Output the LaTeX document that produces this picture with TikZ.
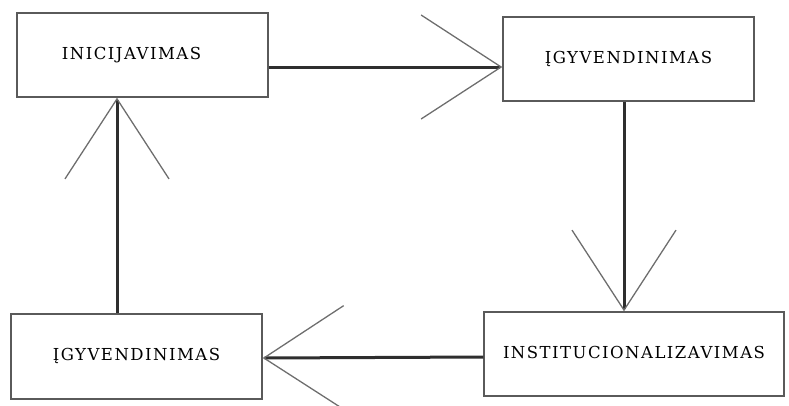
\documentclass[tikz,border=0pt]{standalone}
\usepackage{fontspec}
\setmainfont{DejaVu Serif}[LetterSpace=9]
\usetikzlibrary{arrows.meta}
\definecolor{boxline}{HTML}{5A5A5A}
\definecolor{shaft}{HTML}{2E2E2E}
\definecolor{barb}{HTML}{6E6E6E}
\begin{document}
\begin{tikzpicture}[x=1pt,y=-1pt,
  stage/.style={draw=boxline, line width=1.4pt, fill=white, rectangle,
    inner sep=0pt, font=\fontsize{16.5}{19}\selectfont},
  flow/.style={draw=shaft, line width=3pt,
    -{Straight Barb[length=80pt, width=104pt, line width=1.3pt, color=barb]}}]
\useasboundingbox (0,0) rectangle (789,405);
% the four stages of the cycle
\node[stage, minimum width=251pt, minimum height=84pt] (init) at (142.5,55)
  {\raisebox{1pt}{\hspace*{-22pt}INICIJAVIMAS}};
\node[stage, minimum width=251pt, minimum height=84pt] (impA) at (628.5,59)
  {\raisebox{4pt}{ĮGYVENDINIMAS}};
\node[stage, minimum width=300pt, minimum height=84pt] (inst) at (634,354)
  {\raisebox{4pt}{INSTITUCIONALIZAVIMAS}};
\node[stage, minimum width=251pt, minimum height=85pt] (impB) at (136.5,356.5)
  {\raisebox{4pt}{ĮGYVENDINIMAS}};
% connectors between the stages
\draw[flow] ([yshift=-12pt]init.east) -- ([yshift=-8pt]impA.west);
\draw[flow] ([xshift=-4.5pt]impA.south) -- ([xshift=-10pt]inst.north);
\draw[flow] ([yshift=-3pt]inst.west) -- ([yshift=-1.5pt]impB.east);
\draw[flow] ([xshift=-19.5pt]impB.north) -- ([xshift=-25.5pt]init.south);
\end{tikzpicture}
\end{document}
